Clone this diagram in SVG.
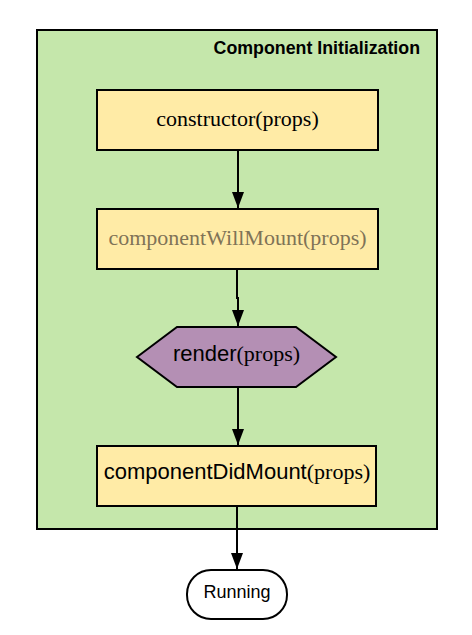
<svg xmlns="http://www.w3.org/2000/svg" width="472" height="635" viewBox="0 0 472 635">
<style>
.box{fill:#ffeba6;stroke:#000;stroke-width:2}
.serif{font-family:"Liberation Serif","Times New Roman",serif;font-size:22px}
.sans{font-family:"Liberation Sans",Arial,sans-serif;font-size:22px}
.edge{fill:none;stroke:#000;stroke-width:2}
</style>
<defs>
<marker id="arr" viewBox="0 0 16 12" refX="16" refY="6" markerWidth="16" markerHeight="12" orient="auto" markerUnits="userSpaceOnUse">
<path d="M0,0 L16,6 L0,12 Z" fill="#000"/>
</marker>
</defs>
<g id="container">
<rect x="37" y="30" width="400" height="499" fill="#c5e7ab" stroke="#000" stroke-width="2"/>
<text x="420" y="54" text-anchor="end" font-family="Liberation Sans,Arial,sans-serif" font-size="17.8" font-weight="bold">Component Initialization</text>
</g>
<g id="connectors">
<path class="edge" d="M238,150 L238,208" marker-end="url(#arr)"/>
<path class="edge" d="M237,269 L237,298 L238,298 L238,326" marker-end="url(#arr)"/>
<path class="edge" d="M238,387 L238,445" marker-end="url(#arr)"/>
<path class="edge" d="M237,506 L237,569" marker-end="url(#arr)"/>
</g>
<g id="constructor">
<rect class="box" x="97" y="90" width="281" height="60"/>
<text class="serif" x="237.5" y="126" text-anchor="middle">constructor(props)</text>
</g>
<g id="componentWillMount">
<rect class="box" x="97" y="209" width="281" height="60"/>
<text class="serif" x="237.5" y="245" text-anchor="middle" fill="#7f7357">componentWillMount(props)</text>
</g>
<g id="render">
<polygon points="137,357 177,327 296,327 336,357 296,387 177,387" fill="#b48fb4" stroke="#000" stroke-width="2"/>
<text x="236.5" y="361" text-anchor="middle"><tspan class="sans">render</tspan><tspan class="serif">(props)</tspan></text>
</g>
<g id="componentDidMount">
<rect class="box" x="97" y="446" width="279" height="60"/>
<text x="237" y="479" text-anchor="middle"><tspan class="sans">componentDidMount</tspan><tspan class="serif">(props)</tspan></text>
</g>
<g id="running">
<rect x="187" y="570" width="100" height="49" rx="24" ry="24" fill="#fff" stroke="#000" stroke-width="2"/>
<text x="237" y="598" text-anchor="middle" font-family="Liberation Sans,Arial,sans-serif" font-size="18">Running</text>
</g>
</svg>
